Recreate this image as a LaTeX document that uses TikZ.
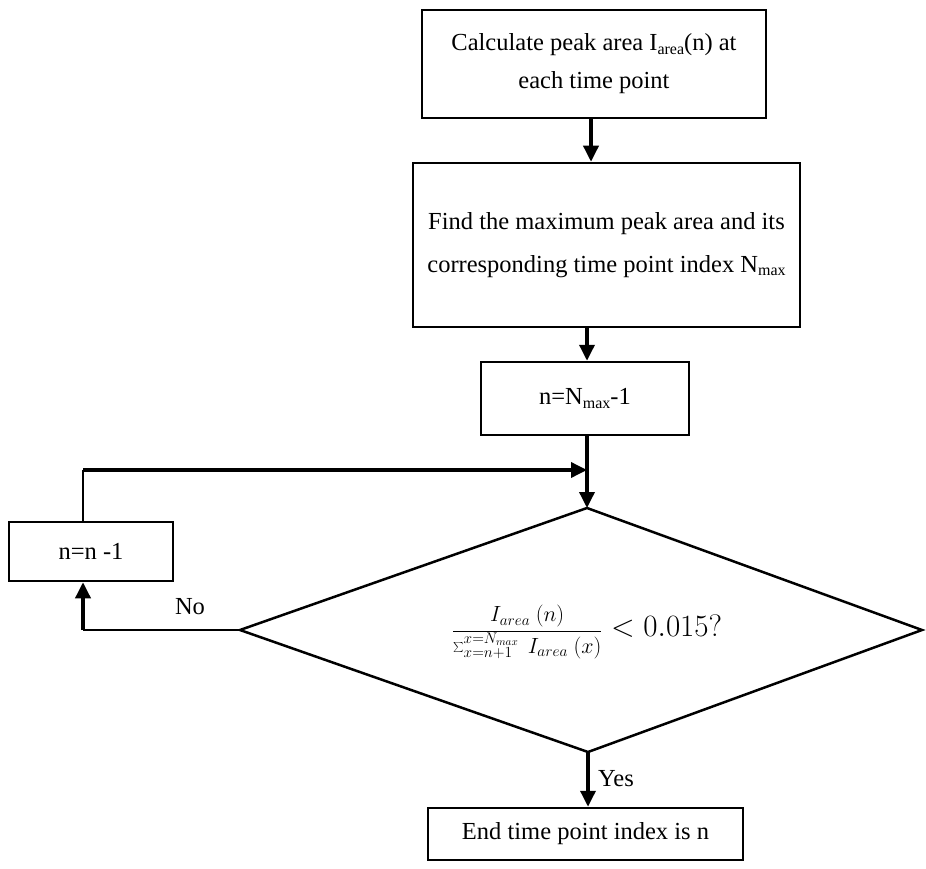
\RequirePackage{fix-cm}
\documentclass[tikz,border=0pt]{standalone}
\usepackage[no-math]{fontspec}
\setmainfont{Liberation Serif}
\usetikzlibrary{arrows.meta}
\newcommand{\sbs}[1]{\raisebox{-3.5pt}{\fontsize{16}{16}\selectfont #1}}
\begin{document}
\begin{tikzpicture}[x=1pt,y=-1pt,
  boxst/.style={draw, line width=2.5pt, inner sep=0pt, align=center},
  arr/.style={line width=3.5pt, -{Triangle[length=16pt,width=15pt]}},
  thinln/.style={line width=1.5pt},
  lbl/.style={font=\fontsize{24.5}{30}\selectfont, inner sep=0pt}]
\useasboundingbox (0,0) rectangle (926,869);

\node[boxst, minimum width=344pt, minimum height=108pt,
      font=\fontsize{24.5}{38}\selectfont] (calc) at (594,64)
  {Calculate peak area I\sbs{area}(n) at\\each time point};
\node[boxst, minimum width=387pt, minimum height=164pt,
      font=\fontsize{24.5}{43}\selectfont] (find) at (606.5,245)
  {Find the maximum peak area and its\\corresponding time point index N\sbs{max}};
\node[boxst, minimum width=208pt, minimum height=73pt,
      font=\fontsize{24.5}{30}\selectfont] (init) at (585,398.5)
  {n=N\sbs{max}-1};
\node[boxst, minimum width=164pt, minimum height=59pt,
      font=\fontsize{24.5}{30}\selectfont] (dec1) at (91,551.5)
  {n=n -1};
\node[boxst, minimum width=315pt, minimum height=52pt,
      font=\fontsize{24.5}{30}\selectfont] (endb) at (585.5,834)
  {End time point index is n};

% decision diamond
\coordinate (dt) at (587,508);
\coordinate (dr) at (922,630);
\coordinate (db) at (588,752);
\coordinate (dl) at (240,630);
\draw[line width=2.5pt] (dt) -- (dr) -- (db) -- (dl) -- cycle;
\node[inner sep=0pt] (cond) at (587,632)
  {{\fontsize{22}{24}\selectfont$\displaystyle\frac{I_{area}\ (n)}{\sum\nolimits_{x=n+1}^{x=N_{max}}\ I_{area}\ (x)}$}{\fontsize{31}{33}\selectfont$\;<0.015?$}};

% main flow
\coordinate (c1) at (591,0);
\coordinate (c2) at (587,0);
\draw[arr] (calc.south -| c1) -- (find.north -| c1);
\draw[arr] (find.south -| c2) -- (init.north -| c2);
\draw[arr] (init.south -| c2) -- (dt);
\draw[arr] (db) -- (endb.north -| db);
\node[lbl] (yes) at (616,779) {Yes};

% loop
\coordinate (lt) at (83,470);
\coordinate (lb) at (83,630);
\draw[thinln] (dl) -- (lb);
\draw[arr] (lb) -- (dec1.south -| lb);
\draw[thinln] (dec1.north -| lt) -- (lt);
\draw[arr] (lt) -- (lt -| dt);
\node[lbl] (no) at (190,607) {No};
\end{tikzpicture}
\end{document}
